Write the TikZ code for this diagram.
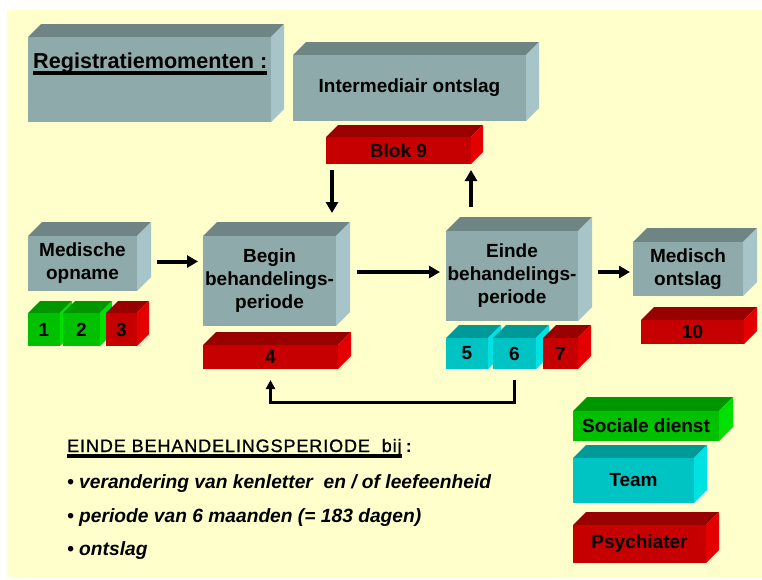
\documentclass[tikz,border=0pt]{standalone}
\usepackage{fontspec}
\setmainfont{Liberation Sans}
\usetikzlibrary{arrows.meta,calc}
\definecolor{bgY}{HTML}{FFFFCC}
\definecolor{greyF}{HTML}{8FAAAA}
\definecolor{greyT}{HTML}{6F8585}
\definecolor{greyS}{HTML}{A7C5C9}
\definecolor{redF}{HTML}{C60000}
\definecolor{redT}{HTML}{990000}
\definecolor{redS}{HTML}{E40000}
\definecolor{grnF}{HTML}{00C000}
\definecolor{grnT}{HTML}{009600}
\definecolor{grnS}{HTML}{00E000}
\definecolor{cyaF}{HTML}{00C4C4}
\definecolor{cyaT}{HTML}{009999}
\definecolor{cyaS}{HTML}{00E2E2}
\tikzset{
  boxface/.style={inner sep=0pt, outer sep=0pt, anchor=north west, align=center,
    font=\fontsize{19}{23}\selectfont\bfseries, text=black},
  arr/.style={line width=4pt, -{Triangle[length=11pt,width=12pt]}},
  arrthin/.style={line width=3pt, -{Triangle[length=9pt,width=9pt]}},
  bullettext/.style={anchor=base west, inner sep=0pt, font=\fontsize{19.2}{23}\selectfont\bfseries\itshape},
}
% name, x1, y1, x2, y2, depth, colour prefix, text
\newcommand\cuboid[8]{%
  \fill[#7T] (#2,#3) -- (#2+#6,#3-#6) -- (#4+#6,#3-#6) -- (#4,#3) -- cycle;
  \fill[#7S] (#4,#3) -- (#4+#6,#3-#6) -- (#4+#6,#5-#6) -- (#4,#5) -- cycle;
  \node[boxface, fill=#7F, minimum width={(#4-#2)*1pt}, minimum height={(#5-#3)*1pt}] (#1) at (#2,#3) {#8};
}
\begin{document}
\begin{tikzpicture}[x=1pt, y=-1pt]
\useasboundingbox (0,0) rectangle (762,579);
\fill[white] (0,0) rectangle (762,579);
\fill[bgY] (7,10) rectangle (762,577);

\cuboid{reg}{28}{37}{271}{122}{13}{grey}{}
\node[anchor=base west, inner sep=0pt, font=\fontsize{21.6}{25}\selectfont\bfseries] (regt) at (33,68) {Registratiemomenten :};
\draw[line width=4pt] ([yshift=-4.5pt]regt.base west) -- ([yshift=-4.5pt]regt.base east);

\cuboid{int}{293}{55}{526}{121}{13}{grey}{\raisebox{-4pt}{Intermediair ontslag}}
\cuboid{b9}{326}{137}{471}{164}{12}{red}{Blok 9}

\cuboid{med}{28}{236}{137}{291}{14}{grey}{Medische\\opname}
\cuboid{n1}{28}{313}{60}{346}{12}{grn}{1}
\cuboid{n2}{63}{313}{100}{346}{12}{grn}{2}
\cuboid{n3}{106}{313}{137}{346}{12}{red}{3}

\cuboid{beg}{203}{236}{336}{326}{14}{grey}{Begin\\behandelings-\\periode}
\cuboid{b4}{203}{345}{338}{369}{13}{red}{4}

\cuboid{ein}{446}{231}{578}{321}{14}{grey}{Einde\\behandelings-\\periode}
\cuboid{n5}{446}{338}{488}{369}{13}{cya}{5}
\cuboid{n6}{493}{338}{536}{369}{13}{cya}{6}
\cuboid{n7}{543}{338}{578}{369}{13}{red}{7}

\cuboid{mo}{633}{242}{743}{296}{14}{grey}{Medisch\\ontslag}
\cuboid{b10}{641}{320}{744}{344}{13}{red}{10}

\cuboid{sd}{573}{411}{719}{441}{14}{grn}{Sociale dienst}
\cuboid{team}{573}{458}{694}{503}{13}{cya}{Team}
\cuboid{psy}{573}{525}{706}{563}{13}{red}{Psychiater}

% connectors
\draw[arr] ([xshift=20pt,yshift=2pt]med.east) -- ([xshift=-5pt,yshift=2pt]beg.west |- med.east);
\draw[arr] ([xshift=21pt,yshift=9pt]beg.east) -- ([xshift=-6pt,yshift=9pt]ein.west |- beg.east);
\draw[arr] ([xshift=20pt,yshift=-3pt]mo.west -| ein.east) -- ([xshift=-3pt,yshift=-3pt]mo.west);
\draw[arr] ([xshift=6pt,yshift=-6pt]b9.south west) -- ([xshift=6pt,yshift=23pt]b9.south west |- beg.north);
\draw[arr] ([yshift=24pt]b9.south east |- ein.north) -- ([yshift=-6pt]b9.south east);
\draw[arrthin] ([yshift=-11pt]n6.south) |- ([yshift=-33pt]b4.south) -- ([yshift=-11pt]b4.south);

% bottom text
\node[anchor=base west, inner sep=0pt, font=\fontsize{18}{22}\selectfont\addfontfeature{LetterSpace=5,FakeBold=1}] (hd) at (67,452) {EINDE BEHANDELINGSPERIODE\ \ bij};
\node[anchor=base west, inner sep=0pt, font=\fontsize{18}{22}\selectfont\bfseries] (hdc) at ([xshift=4pt]hd.base east) {:};
\draw[line width=3.5pt] ([yshift=-4pt]hd.base west) -- ([yshift=-4pt]hd.base east);
\node[bullettext] (l1) at (67,488) {\textbullet{} verandering van kenletter\ \ en / of leefeenheid};
\node[bullettext] (l2) at (67,522) {\textbullet{} periode van 6 maanden (= 183 dagen)};
\node[bullettext] (l3) at (67,555) {\textbullet{} ontslag};
\end{tikzpicture}
\end{document}
